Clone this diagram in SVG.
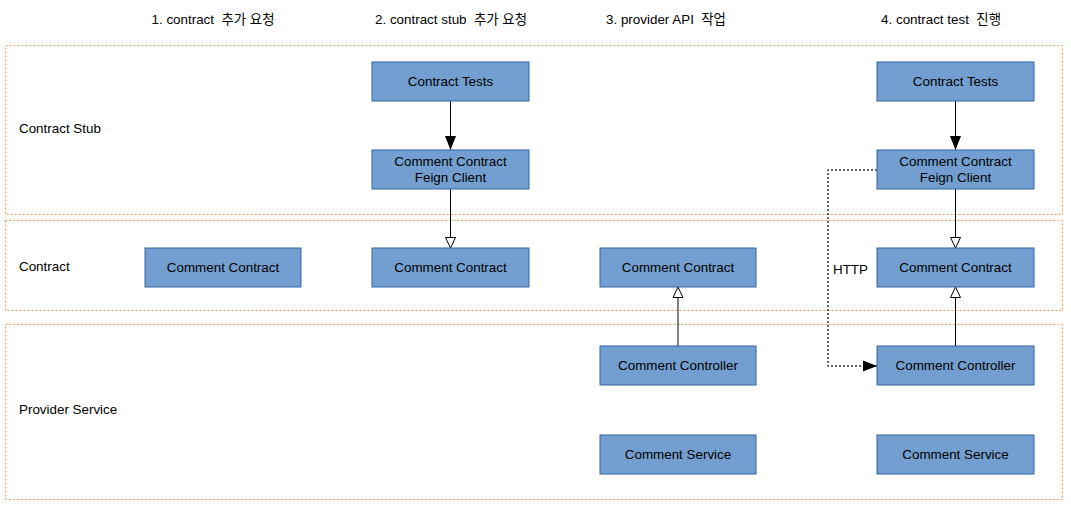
<svg xmlns="http://www.w3.org/2000/svg" width="1071" height="509" viewBox="0 0 1071 509">
<style>
.lane{fill:none;stroke:#f0a060;stroke-width:1.2;stroke-dasharray:2,2}
.box{fill:#729fcf;stroke:#3465a4;stroke-width:1}
text{font-family:"Liberation Sans",Arial,"Noto Sans CJK KR",sans-serif;font-size:13.4px;fill:#000;white-space:pre}
.c{text-anchor:middle}
.ln{stroke:#000;stroke-width:1;fill:none}
.dot{stroke:#333;stroke-width:1.5;fill:none;stroke-dasharray:2,2}
</style>
<defs>
<marker id="filled" markerWidth="16" markerHeight="12" refX="14" refY="5.5" orient="auto" markerUnits="userSpaceOnUse" viewBox="0 0 16 11">
<path d="M0,0 L14,5.5 L0,11 Z" fill="#000"/>
</marker>
<marker id="hollow" markerWidth="14" markerHeight="12" refX="11" refY="5.5" orient="auto" markerUnits="userSpaceOnUse" viewBox="0 0 14 11">
<path d="M0.5,0.5 L11,5.5 L0.5,10.5 Z" fill="#fff" stroke="#000" stroke-width="1"/>
</marker>
</defs>
<g id="headers">
<text x="213" y="24" class="c" xml:space="preserve">1. contract  추가 요청</text>
<text x="451" y="24" class="c" xml:space="preserve">2. contract stub  추가 요청</text>
<text x="666" y="24" class="c" xml:space="preserve">3. provider API  작업</text>
<text x="941" y="24" class="c" xml:space="preserve">4. contract test  진행</text>
</g>
<g id="lane-stub"><rect class="lane" x="5.5" y="45.5" width="1057" height="169"/><text x="19" y="133">Contract Stub</text></g>
<g id="lane-contract"><rect class="lane" x="5.5" y="220.5" width="1057" height="90"/><text x="19" y="271">Contract</text></g>
<g id="lane-provider"><rect class="lane" x="5.5" y="324.5" width="1057" height="175"/><text x="19" y="414">Provider Service</text></g>

<g id="connectors">
<line class="ln" x1="450.5" y1="101" x2="450.5" y2="150" marker-end="url(#filled)"/>
<line class="ln" x1="450.5" y1="189" x2="450.5" y2="248" marker-end="url(#hollow)"/>
<line class="ln" x1="678" y1="346" x2="678" y2="287" marker-end="url(#hollow)"/>
<line class="ln" x1="955.5" y1="101" x2="955.5" y2="150" marker-end="url(#filled)"/>
<line class="ln" x1="955.5" y1="189" x2="955.5" y2="248" marker-end="url(#hollow)"/>
<line class="ln" x1="955.5" y1="346" x2="955.5" y2="287" marker-end="url(#hollow)"/>
<polyline class="dot" points="877,170 828,170 828,366 877,366" marker-end="url(#filled)"/>
<text x="833" y="274">HTTP</text>
</g>

<g id="n1-contract"><rect class="box" x="145" y="248" width="156" height="39"/><text x="223" y="272" class="c">Comment Contract</text></g>

<g id="n2-tests"><rect class="box" x="372" y="62" width="157" height="39"/><text x="450.5" y="86" class="c">Contract Tests</text></g>
<g id="n2-feign"><rect class="box" x="372" y="150" width="157" height="39"/><text x="450.5" y="166" class="c">Comment Contract</text><text x="450.5" y="182" class="c">Feign Client</text></g>
<g id="n2-contract"><rect class="box" x="372" y="248" width="157" height="39"/><text x="450.5" y="272" class="c">Comment Contract</text></g>

<g id="n3-contract"><rect class="box" x="600" y="248" width="156" height="39"/><text x="678" y="272" class="c">Comment Contract</text></g>
<g id="n3-controller"><rect class="box" x="600" y="346" width="156" height="39"/><text x="678" y="370" class="c">Comment Controller</text></g>
<g id="n3-service"><rect class="box" x="600" y="435" width="156" height="39"/><text x="678" y="459" class="c">Comment Service</text></g>

<g id="n4-tests"><rect class="box" x="877" y="62" width="157" height="39"/><text x="955.5" y="86" class="c">Contract Tests</text></g>
<g id="n4-feign"><rect class="box" x="877" y="150" width="157" height="39"/><text x="955.5" y="166" class="c">Comment Contract</text><text x="955.5" y="182" class="c">Feign Client</text></g>
<g id="n4-contract"><rect class="box" x="877" y="248" width="157" height="39"/><text x="955.5" y="272" class="c">Comment Contract</text></g>
<g id="n4-controller"><rect class="box" x="877" y="346" width="157" height="39"/><text x="955.5" y="370" class="c">Comment Controller</text></g>
<g id="n4-service"><rect class="box" x="877" y="435" width="157" height="39"/><text x="955.5" y="459" class="c">Comment Service</text></g>
</svg>
